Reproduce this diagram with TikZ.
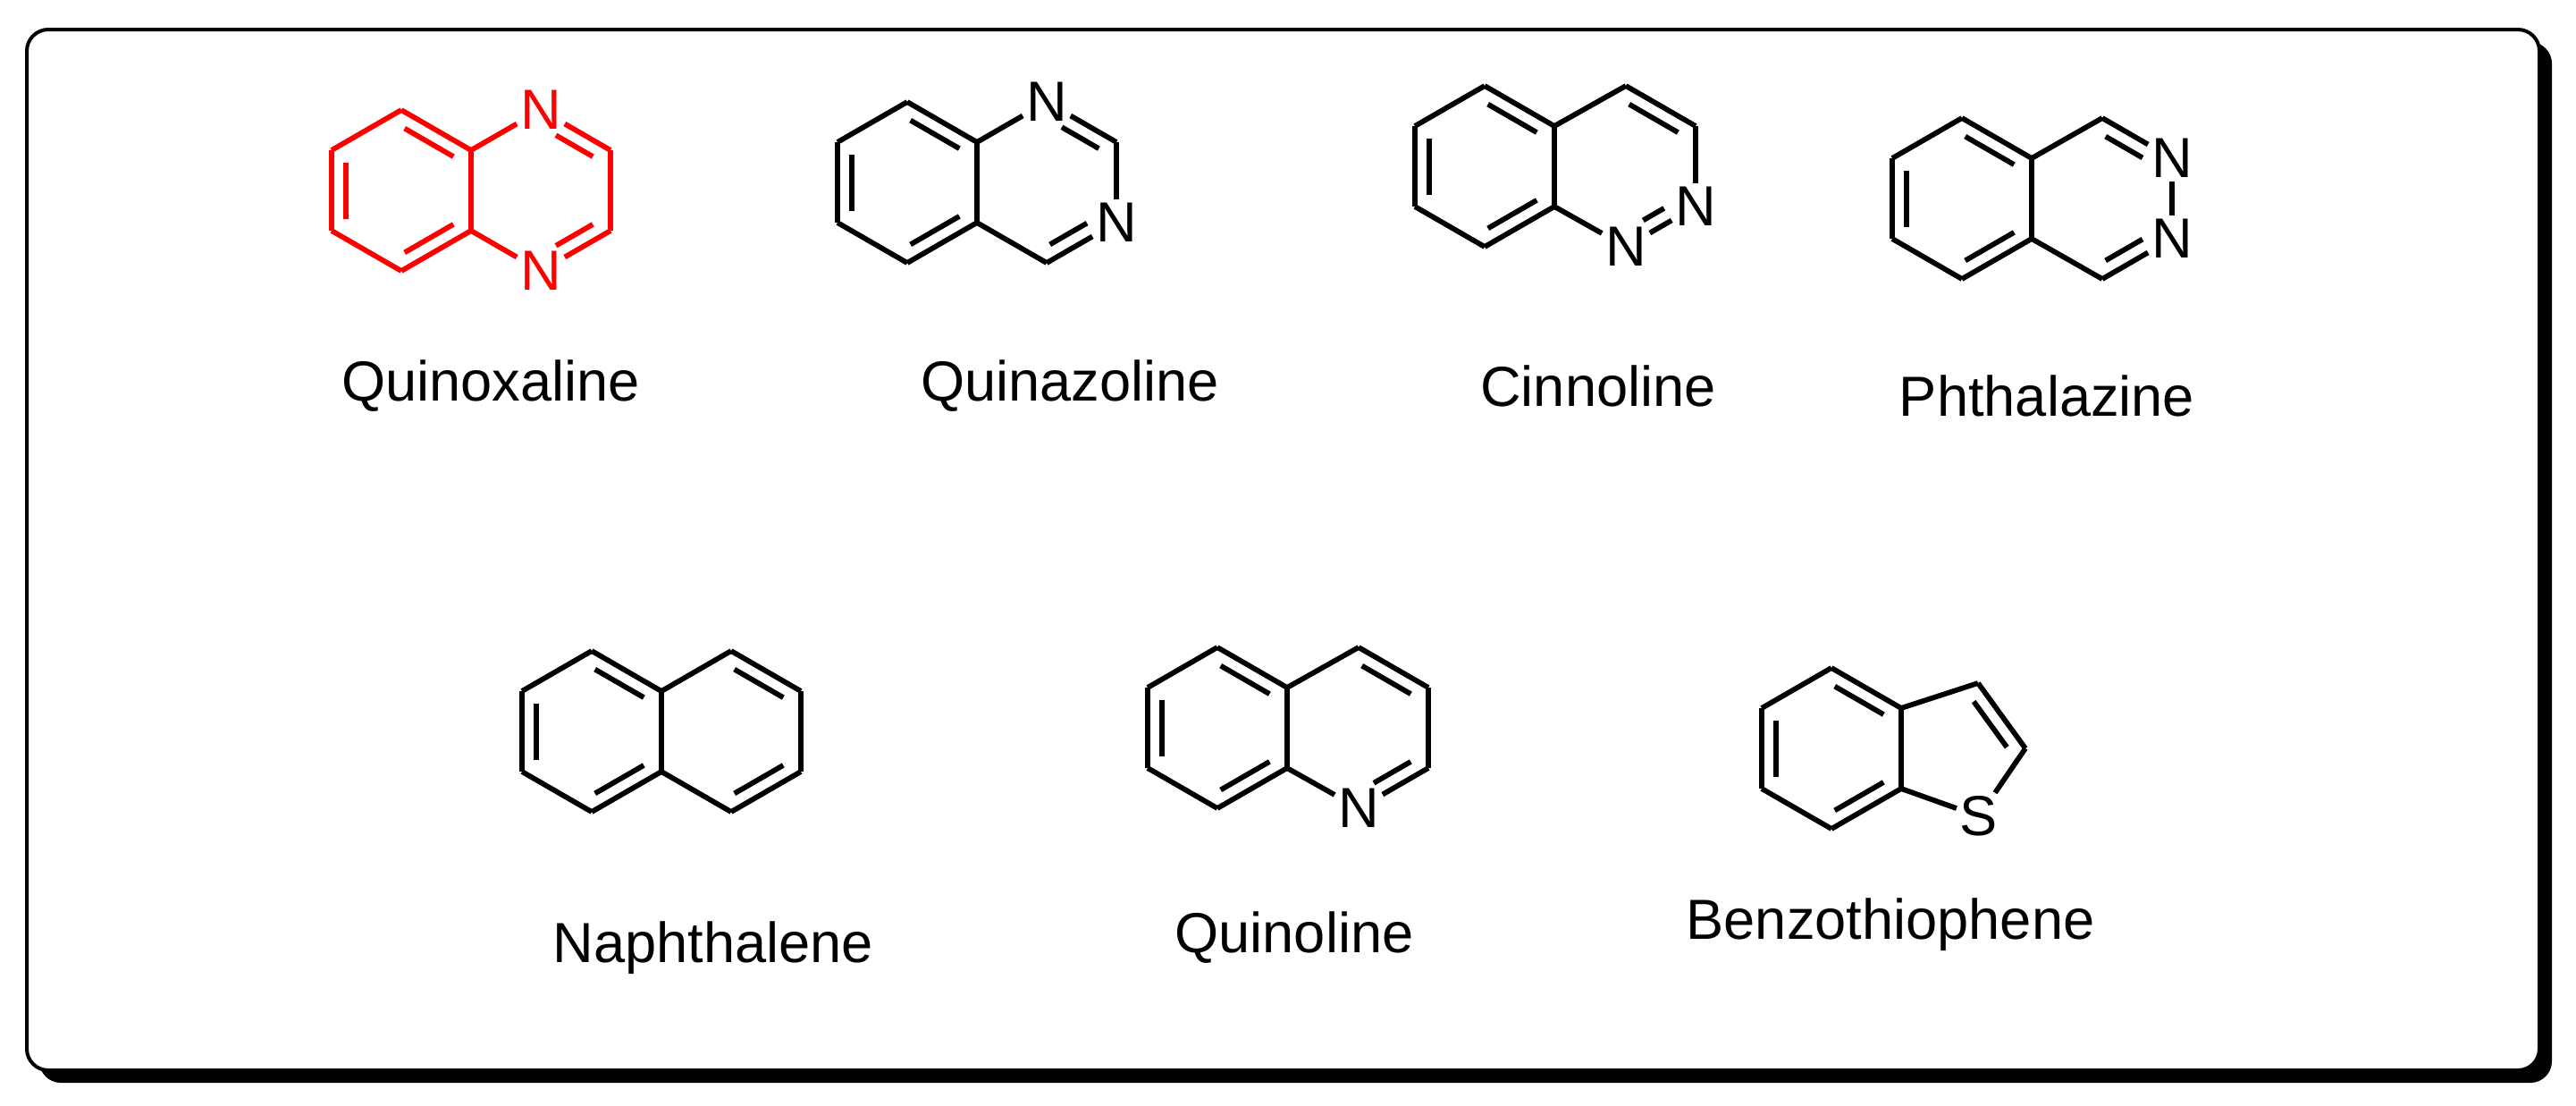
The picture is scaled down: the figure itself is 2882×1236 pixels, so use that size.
\documentclass[tikz,border=0pt]{standalone}
\usepackage{fontspec}
\setmainfont{Liberation Sans}
\usetikzlibrary{calc}
\tikzset{bond/.style={line width=1.45pt,line cap=butt,line join=miter},
 atom/.style={inner sep=0.8pt,font=\fontsize{15.8}{18}\selectfont},
 lbl/.style={font=\fontsize{15.8}{18}\selectfont,inner sep=0pt}}
\newcommand\hexring[3]{%
 \coordinate (#1c) at (#2,#3);
 \coordinate (#11) at (#2,#3-90);
 \coordinate (#12) at (#2-78,#3-45);
 \coordinate (#13) at (#2-78,#3+45);
 \coordinate (#14) at (#2,#3+90);
 \coordinate (#15) at (#2+78,#3+45);
 \coordinate (#16) at (#2+78,#3-45);}
\newcommand\bd[2]{\draw[bond] (#1) -- (#2);}
\newcommand\inr[5]{%
 \coordinate (mm) at ($(#1)!.5!(#2)$);
 \coordinate (ss) at ($(mm)!4pt!(#3)$);
 \draw[bond] ($(#1)!#4!(#2)+(ss)-(mm)$) -- ($(#2)!#5!(#1)+(ss)-(mm)$);}
\newcommand\benz[1]{%
 \bd{#11}{#12}\bd{#12}{#13}\bd{#13}{#14}\bd{#14}{#15}\bd{#15}{#16}\bd{#16}{#11}
 \inr{#11}{#16}{#1c}{0.15}{0.15}\inr{#12}{#13}{#1c}{0.15}{0.15}\inr{#14}{#15}{#1c}{0.15}{0.15}}
\begin{document}
\begin{tikzpicture}[x=0.25pt,y=-0.25pt]
\useasboundingbox (0,0) rectangle (2882,1236);
\fill[black,rounded corners=6pt] (44,47) rectangle (2855,1211);
\draw[line width=1pt,fill=white,rounded corners=6pt] (30,33) rectangle (2841,1197);
% Quinoxaline
\begin{scope}[red]
\hexring{qa}{449}{213}\hexring{qb}{605}{213}
\benz{qa}
\node[atom] (qbN1) at (qb1) {N};
\node[atom] (qbN4) at (qb4) {N};
\bd{qa6}{qbN1}\bd{qbN1}{qb6}\bd{qb6}{qb5}\bd{qb5}{qbN4}\bd{qbN4}{qa5}
\inr{qb1}{qb6}{qbc}{0.32}{0.15}\inr{qb4}{qb5}{qbc}{0.32}{0.15}
\end{scope}
% Quinazoline
\hexring{za}{1015}{204}\hexring{zb}{1171}{204}
\benz{za}
\node[atom] (zbN1) at (zb1) {N};
\node[atom] (zbN5) at (zb5) {N};
\bd{za6}{zbN1}\bd{zbN1}{zb6}\bd{zb6}{zbN5}\bd{zbN5}{zb4}\bd{zb4}{za5}
\inr{zb1}{zb6}{zbc}{0.32}{0.15}\inr{zb4}{zb5}{zbc}{0.15}{0.32}
% Cinnoline
\hexring{ca}{1661}{186}\hexring{cb}{1819}{186}
\benz{ca}
\node[atom] (cbN4) at (cb4) {N};
\node[atom] (cbN5) at (cb5) {N};
\bd{ca6}{cb1}\bd{cb1}{cb6}\bd{cb6}{cbN5}\bd{cbN5}{cbN4}\bd{cbN4}{ca5}
\inr{cb1}{cb6}{cbc}{0.15}{0.15}\inr{cb4}{cb5}{cbc}{0.35}{0.35}
% Phthalazine
\hexring{pa}{2195}{222}\hexring{pb}{2352}{222}
\benz{pa}
\node[atom] (pbN6) at (pb6) {N};
\node[atom] (pbN5) at (pb5) {N};
\bd{pa6}{pb1}\bd{pb1}{pbN6}\bd{pbN6}{pbN5}\bd{pbN5}{pb4}\bd{pb4}{pa5}
\inr{pb1}{pb6}{pbc}{0.15}{0.32}\inr{pb4}{pb5}{pbc}{0.15}{0.32}
% Naphthalene
\hexring{na}{662}{818}\hexring{nb}{818}{818}
\benz{na}
\bd{nb1}{nb6}\bd{nb6}{nb5}\bd{nb5}{nb4}
\draw[bond] (na6) -- (nb1); \draw[bond] (na5) -- (nb4);
\inr{nb1}{nb6}{nbc}{0.15}{0.15}\inr{nb4}{nb5}{nbc}{0.15}{0.15}
% Quinoline
\hexring{la}{1362}{814}\hexring{lb}{1520}{814}
\benz{la}
\node[atom] (lbN4) at (lb4) {N};
\bd{la6}{lb1}\bd{lb1}{lb6}\bd{lb6}{lb5}\bd{lb5}{lbN4}\bd{lbN4}{la5}
\inr{lb1}{lb6}{lbc}{0.15}{0.15}\inr{lb4}{lb5}{lbc}{0.32}{0.15}
% Benzothiophene
\hexring{ta}{2049}{837}
\benz{ta}
\coordinate (t3) at (2213,764);
\coordinate (t2) at (2266,837);
\coordinate (tc) at (2190,838);
\node[atom] (tS) at (2214,913) {S};
\bd{ta6}{t3}\bd{t3}{t2}\bd{t2}{tS}\bd{tS}{ta5}
\inr{t3}{t2}{tc}{0.15}{0.15}
% Labels
\node[lbl] (l1) at (549,432) {Quinoxaline};
\node[lbl] (l2) at (1197,432) {Quinazoline};
\node[lbl] (l3) at (1788,432) {Cinnoline};
\node[lbl] (l4) at (2290,443) {Phthalazine};
\node[lbl] (l5) at (798,1060) {Naphthalene};
\node[lbl] (l6) at (1448,1049) {Quinoline};
\node[lbl] (l7) at (2115,1034) {Benzothiophene};
\end{tikzpicture}
\end{document}
